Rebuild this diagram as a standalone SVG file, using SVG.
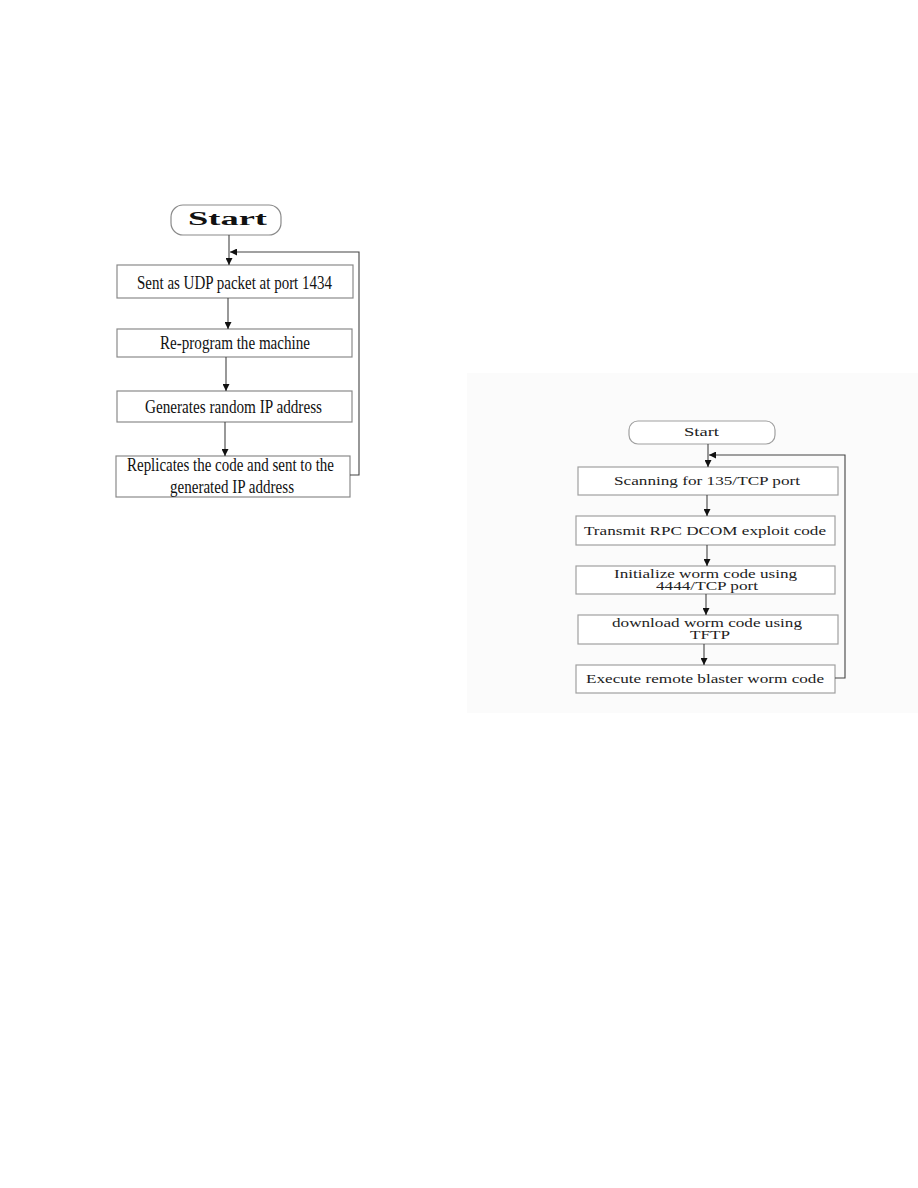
<svg xmlns="http://www.w3.org/2000/svg" width="918" height="1188" viewBox="0 0 918 1188">
<style>
.bl{fill:#fff;stroke:#8a8a8a;stroke-width:1.2}
.br{fill:#fff;stroke:#a0a0a0;stroke-width:1.2}
.tl{font-family:"Liberation Serif",serif;font-size:18.5px;fill:#111;text-anchor:start}
.tr{font-family:"Liberation Serif",serif;font-size:11.5px;fill:#222;text-anchor:start}
.c{fill:none;stroke:#444;stroke-width:1.1}
</style>
<defs>
<marker id="ah" viewBox="0 0 10 10" refX="10" refY="5" markerWidth="7" markerHeight="7" markerUnits="userSpaceOnUse" orient="auto"><path d="M0,0L10,5L0,10z" fill="#111"/></marker>
</defs>
<rect width="918" height="1188" fill="#fff"/>
<rect x="467" y="373" width="451" height="340" fill="#fbfbfb"/>
<g id="left-start"><rect class="bl" x="171" y="205" width="110" height="30" rx="12"/><text class="tl" x="188" y="225" font-size="14" font-weight="bold" textLength="79" lengthAdjust="spacingAndGlyphs">Start</text></g>
<g id="left-1"><rect class="bl" x="117" y="265" width="236" height="33"/><text class="tl" x="137" y="289" textLength="195" lengthAdjust="spacingAndGlyphs">Sent as UDP packet at port 1434</text></g>
<g id="left-2"><rect class="bl" x="117" y="329" width="235" height="28"/><text class="tl" x="160" y="349" textLength="150" lengthAdjust="spacingAndGlyphs">Re-program the machine</text></g>
<g id="left-3"><rect class="bl" x="117" y="391" width="235" height="31"/><text class="tl" x="145" y="413" textLength="177" lengthAdjust="spacingAndGlyphs">Generates random IP address</text></g>
<g id="left-4"><rect class="bl" x="116" y="456" width="234" height="41"/><text class="tl" x="127" y="471" textLength="207" lengthAdjust="spacingAndGlyphs">Replicates the code and sent to the</text><text class="tl" x="170" y="493" textLength="124" lengthAdjust="spacingAndGlyphs">generated IP address</text></g>
<g id="right-start"><rect class="br" x="629" y="421" width="146" height="23" rx="9"/><text class="tr" x="684" y="436" font-size="13" textLength="35" lengthAdjust="spacingAndGlyphs">Start</text></g>
<g id="right-1"><rect class="br" x="578" y="467" width="260" height="28"/><text class="tr" x="614" y="485" textLength="186" lengthAdjust="spacingAndGlyphs">Scanning for 135/TCP port</text></g>
<g id="right-2"><rect class="br" x="576" y="516" width="259" height="29"/><text class="tr" x="584" y="535" textLength="242" lengthAdjust="spacingAndGlyphs">Transmit RPC DCOM exploit code</text></g>
<g id="right-3"><rect class="br" x="576" y="566" width="259" height="28"/><text class="tr" x="614" y="578" textLength="183" lengthAdjust="spacingAndGlyphs">Initialize worm code using</text><text class="tr" x="656" y="590" textLength="102" lengthAdjust="spacingAndGlyphs">4444/TCP port</text></g>
<g id="right-4"><rect class="br" x="578" y="615" width="260" height="29"/><text class="tr" x="612" y="627" textLength="190" lengthAdjust="spacingAndGlyphs">download worm code using</text><text class="tr" x="690" y="639" textLength="40" lengthAdjust="spacingAndGlyphs">TFTP</text></g>
<g id="right-5"><rect class="br" x="576" y="665" width="259" height="28"/><text class="tr" x="586" y="683" textLength="238" lengthAdjust="spacingAndGlyphs">Execute remote blaster worm code</text></g>
<g id="connectors">
<path class="c" d="M229,235V265" marker-end="url(#ah)"/>
<path class="c" d="M228,298V329" marker-end="url(#ah)"/>
<path class="c" d="M226,357V391" marker-end="url(#ah)"/>
<path class="c" d="M225,422V456" marker-end="url(#ah)"/>
<path class="c" d="M350,475H359V252H230" marker-end="url(#ah)"/>
<path class="c" d="M708,444V467" marker-end="url(#ah)"/>
<path class="c" d="M707,495V516" marker-end="url(#ah)"/>
<path class="c" d="M707,545V566" marker-end="url(#ah)"/>
<path class="c" d="M706,594V615" marker-end="url(#ah)"/>
<path class="c" d="M704,644V665" marker-end="url(#ah)"/>
<path class="c" d="M835,678H845V455H709" marker-end="url(#ah)"/>
</g>
</svg>
